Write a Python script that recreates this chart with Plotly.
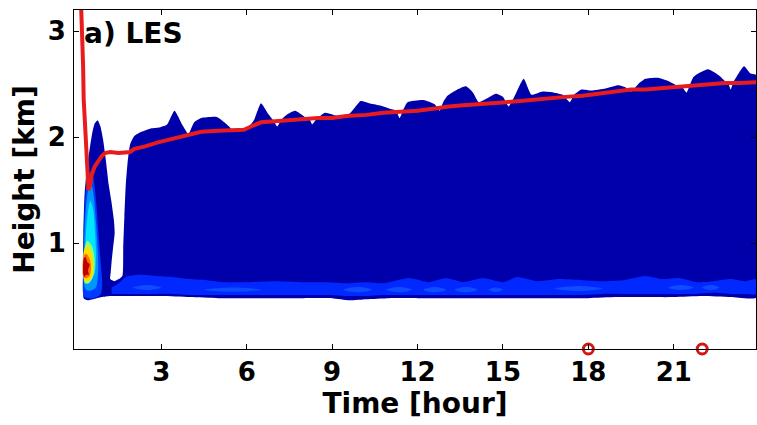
import plotly.graph_objects as go

# ------------------------------------------------------------------ data
# early convective column outline (time [h], height [km])
column_t = [0.27, 0.25, 0.26, 0.30, 0.38, 0.50, 0.58, 0.66, 0.76, 0.86, 0.95, 1.05, 1.15, 1.24, 1.33, 1.36, 1.30, 1.25, 1.22, 1.20]
column_h = [0.48, 0.70, 1.10, 1.45, 1.70, 1.92, 2.05, 2.13, 2.16, 2.10, 1.98, 1.78, 1.55, 1.40, 1.22, 1.10, 0.95, 0.82, 0.72, 0.66]
# floor of the clear gap between column and cloud deck
gap_floor_t = [1.35, 1.50]
gap_floor_h = [0.64, 0.66]
# left edge of the main cloud deck
deck_left_t = [1.63, 1.66, 1.70, 1.75, 1.81, 1.90, 2.05, 2.30]
deck_left_h = [0.69, 0.95, 1.25, 1.55, 1.75, 1.93, 2.01, 2.05]
# cloud-top of the main deck
top_t = [2.6, 2.9, 3.2, 3.46, 3.75, 3.95, 4.15, 4.4, 4.95, 5.3, 5.55, 5.7, 6.0, 6.25, 6.5, 6.75,
         6.95, 7.07, 7.2, 7.45, 7.7, 8.05, 8.2, 8.3, 8.45, 8.75, 9.2, 9.6, 9.8, 10.0, 10.3, 10.65,
         11.0, 11.25, 11.37, 11.5, 11.65, 12.2, 12.6, 12.77, 12.9, 13.05, 13.4, 13.7, 13.95, 14.15,
         14.4, 14.75, 15.0, 15.2, 15.4, 15.73, 16.0, 16.4, 16.8, 17.1, 17.35, 17.5, 17.76, 18.1,
         18.6, 19.05, 19.3, 19.5, 19.75, 20.0, 20.45, 20.8, 21.1, 21.3, 21.45, 21.55, 21.7, 22.2,
         22.6, 22.8, 22.93, 23.0, 23.1, 23.47, 23.7, 23.95]
top_h = [2.08, 2.09, 2.12, 2.25, 2.11, 2.03, 2.14, 2.18, 2.19, 2.12, 2.06, 2.06, 2.08, 2.16, 2.32, 2.22,
         2.15, 2.10, 2.16, 2.22, 2.25, 2.19, 2.17, 2.12, 2.17, 2.23, 2.20, 2.22, 2.28, 2.34, 2.32, 2.30,
         2.27, 2.25, 2.18, 2.26, 2.33, 2.35, 2.31, 2.25, 2.33, 2.39, 2.45, 2.48, 2.42, 2.33,
         2.36, 2.41, 2.38, 2.29, 2.38, 2.55, 2.40, 2.43, 2.42, 2.40, 2.33, 2.40, 2.45, 2.44,
         2.46, 2.49, 2.47, 2.43, 2.50, 2.55, 2.56, 2.53, 2.49, 2.47, 2.42, 2.48, 2.57, 2.64,
         2.58, 2.53, 2.50, 2.45, 2.52, 2.67, 2.60, 2.58]
# cloud base (from column to right edge)
base_t = [0.27, 0.4, 0.6, 0.9, 1.2, 1.6, 2.0, 3.0, 4.0, 5.0, 6.0, 7.0, 8.0, 9.0, 9.6, 10.2, 11.0,
          12.0, 13.0, 14.0, 15.0, 16.0, 17.0, 18.0, 19.0, 20.0, 21.0, 22.0, 23.0, 23.95]
base_h = [0.48, 0.46, 0.47, 0.49, 0.50, 0.50, 0.50, 0.50, 0.49, 0.48, 0.48, 0.48, 0.48, 0.48, 0.46, 0.47, 0.48,
          0.48, 0.48, 0.48, 0.48, 0.48, 0.48, 0.48, 0.49, 0.49, 0.49, 0.50, 0.49, 0.49]
# brighter layer just above cloud base
band_t = [1.25, 1.5, 1.75, 2.2, 2.8, 3.4, 4.0, 4.6, 5.2, 6.0, 7.0, 8.0, 8.8, 9.5, 10.2, 10.8, 11.7,
          12.4, 13.0, 13.6, 14.3, 15.0, 15.5, 16.2, 17.0, 17.8, 18.5, 19.2, 20.0, 20.6, 21.2, 21.8,
          22.4, 23.0, 23.5, 23.95]
band_top_h = [0.58, 0.62, 0.68, 0.70, 0.69, 0.68, 0.66, 0.65, 0.63, 0.63, 0.64, 0.63, 0.63, 0.62, 0.63, 0.62, 0.67,
              0.63, 0.67, 0.63, 0.67, 0.63, 0.68, 0.64, 0.66, 0.65, 0.64, 0.65, 0.69, 0.66, 0.67, 0.63,
              0.64, 0.66, 0.64, 0.66]
band_bot_h = [0.52, 0.52, 0.52, 0.52, 0.52, 0.52, 0.51, 0.51, 0.51, 0.51, 0.51, 0.51, 0.51, 0.50, 0.50, 0.51, 0.51,
              0.51, 0.51, 0.51, 0.51, 0.51, 0.51, 0.51, 0.51, 0.51, 0.52, 0.52, 0.52, 0.52, 0.52, 0.52,
              0.53, 0.52, 0.52, 0.52]
# bright patches inside that layer: start, end, centre height, half thickness
patch_t0 = [2.0, 4.5, 9.4, 10.9, 12.2, 13.3, 14.5, 16.8, 20.8, 22.0]
patch_t1 = [3.0, 6.5, 10.4, 11.8, 13.0, 14.1, 15.0, 18.5, 21.7, 22.6]
patch_hc = [0.58, 0.56, 0.56, 0.56, 0.56, 0.56, 0.56, 0.57, 0.58, 0.58]
patch_dh = [0.025, 0.02, 0.025, 0.025, 0.025, 0.025, 0.02, 0.025, 0.025, 0.025]
# nested intensity rings in the early column (outer -> inner)
ring_colors = ["rgb(0,60,255)", "rgb(0,150,255)", "rgb(0,230,255)", "rgb(150,255,100)",
               "rgb(255,220,0)", "rgb(255,110,0)", "rgb(190,0,0)"]
ring_t = [
    [0.27, 0.26, 0.28, 0.33, 0.42, 0.52, 0.62, 0.72, 0.80, 0.88, 0.92, 0.85, 0.60, 0.40],
    [0.28, 0.29, 0.34, 0.43, 0.53, 0.62, 0.70, 0.76, 0.78, 0.70, 0.50, 0.35],
    [0.30, 0.33, 0.40, 0.50, 0.60, 0.67, 0.70, 0.66, 0.50, 0.36],
    [0.28, 0.30, 0.40, 0.55, 0.65, 0.62, 0.45, 0.32],
    [0.27, 0.28, 0.38, 0.52, 0.60, 0.56, 0.42, 0.30],
    [0.26, 0.27, 0.36, 0.48, 0.53, 0.48, 0.36],
    [0.26, 0.27, 0.33, 0.40, 0.48, 0.42, 0.45, 0.35, 0.30],
]
ring_h = [
    [0.50, 0.80, 1.15, 1.45, 1.62, 1.68, 1.60, 1.35, 1.05, 0.78, 0.60, 0.51, 0.48, 0.48],
    [0.62, 1.00, 1.30, 1.50, 1.56, 1.45, 1.20, 0.95, 0.75, 0.58, 0.55, 0.56],
    [0.68, 1.00, 1.25, 1.40, 1.32, 1.10, 0.90, 0.72, 0.64, 0.64],
    [0.66, 0.95, 1.02, 0.98, 0.86, 0.70, 0.62, 0.62],
    [0.67, 0.93, 0.97, 0.92, 0.80, 0.68, 0.64, 0.64],
    [0.68, 0.88, 0.90, 0.85, 0.77, 0.69, 0.67],
    [0.70, 0.85, 0.87, 0.82, 0.80, 0.74, 0.70, 0.70, 0.68],
]
# boundary-layer height (red line)
pbl_t = [0.16, 0.20, 0.23, 0.25, 0.27, 0.31, 0.34, 0.40, 0.44, 0.50, 0.55, 0.65, 0.79, 0.90, 1.02, 1.2, 1.5,
         1.9, 2.05, 2.4, 2.88, 3.3, 3.8, 4.4, 5.0, 5.55, 5.9, 6.15, 6.5, 7.0, 7.5, 8.0, 8.5, 9.0, 9.5,
         10.2, 10.8, 11.4, 12.0, 12.6, 13.1, 13.6, 14.0, 14.6, 15.1, 15.6, 16.0, 16.6, 17.2, 17.8,
         18.3, 18.9, 19.5, 20.0, 20.5, 21.2, 21.8, 22.3, 22.8, 23.3, 23.95]
pbl_h = [3.40, 3.15, 3.00, 2.67, 2.36, 2.15, 1.98, 1.67, 1.50, 1.55, 1.64, 1.72, 1.78, 1.82, 1.85, 1.86, 1.85,
         1.86, 1.89, 1.91, 1.95, 1.98, 2.01, 2.05, 2.06, 2.07, 2.07, 2.10, 2.14, 2.15, 2.16, 2.17, 2.18, 2.18, 2.20,
         2.21, 2.23, 2.24, 2.25, 2.27, 2.29, 2.30, 2.31, 2.32, 2.33, 2.34, 2.35, 2.37, 2.38, 2.39,
         2.41, 2.43, 2.45, 2.45, 2.46, 2.47, 2.49, 2.50, 2.51, 2.51, 2.52]
# sounding times marked on the axis
marker_t = [18, 22]
marker_h = [0, 0]

xtick_vals = [3, 6, 9, 12, 15, 18, 21]
ytick_vals = [1, 2, 3]
x_range = [-0.07, 23.89]
y_range = [0, 3.2]

# ------------------------------------------------------------------ figure
DARK = "rgb(0,0,170)"
BAND = "rgb(0,40,255)"
PATCH = "rgb(15,75,255)"
RED = "rgb(232,28,30)"
FONT = "DejaVu Sans"

fig = go.Figure()

# cloud envelope: column -> gap floor -> deck left edge -> top -> base back
cloud_t = column_t + gap_floor_t + deck_left_t + top_t + base_t[::-1]
cloud_h = column_h + gap_floor_h + deck_left_h + top_h + base_h[::-1]
fig.add_trace(go.Scatter(x=cloud_t, y=cloud_h, mode="lines", fill="toself",
                         fillcolor=DARK, line=dict(width=0, color=DARK, shape="spline", smoothing=0.5),
                         hoverinfo="skip", showlegend=False))

# bright layer above cloud base
fig.add_trace(go.Scatter(x=band_t + band_t[::-1], y=band_top_h + band_bot_h[::-1],
                         mode="lines", fill="toself", fillcolor=BAND,
                         line=dict(width=0, color=BAND, shape="spline", smoothing=0.5),
                         hoverinfo="skip", showlegend=False))

for t0, t1, hc, dh in zip(patch_t0, patch_t1, patch_hc, patch_dh):
    tm = (t0 + t1) / 2
    fig.add_trace(go.Scatter(x=[t0, tm, t1, tm, t0], y=[hc, hc + dh, hc, hc - dh, hc],
                             mode="lines", fill="toself", fillcolor=PATCH,
                             line=dict(width=0, color=PATCH, shape="spline"),
                             hoverinfo="skip", showlegend=False))

for col, rt, rh in zip(ring_colors, ring_t, ring_h):
    fig.add_trace(go.Scatter(x=rt + rt[:1], y=rh + rh[:1], mode="lines", fill="toself",
                             fillcolor=col, line=dict(width=0, color=col, shape="spline",
                                                      smoothing=0.8),
                             hoverinfo="skip", showlegend=False))

# boundary-layer height
fig.add_trace(go.Scatter(x=pbl_t, y=pbl_h, mode="lines",
                         line=dict(color=RED, width=4), hoverinfo="skip", showlegend=False))

# markers on axis
fig.add_trace(go.Scatter(x=marker_t, y=marker_h, mode="markers", cliponaxis=False,
                         marker=dict(symbol="circle-open", size=10, color="rgb(215,20,20)",
                                     line=dict(width=3, color="rgb(215,20,20)")),
                         hoverinfo="skip", showlegend=False))

fig.add_annotation(text="a) LES", xref="paper", yref="paper", x=0.012, y=0.932,
                   xanchor="left", yanchor="middle", showarrow=False,
                   font=dict(family=FONT, size=28, color="black", weight="bold"))

axis_common = dict(showgrid=False, zeroline=False, showline=True, linecolor="black",
                   linewidth=1, mirror="ticks", ticks="inside", ticklen=5, tickwidth=1,
                   tickcolor="black",
                   tickfont=dict(family=FONT, size=26, color="black", weight="bold"))

fig.update_xaxes(range=x_range, tickvals=xtick_vals, ticklabelstandoff=0,
                 title=dict(text="Time [hour]", standoff=0,
                            font=dict(family=FONT, size=28, color="black", weight="bold")),
                 **axis_common)
fig.update_yaxes(range=y_range, tickvals=ytick_vals, ticklabelstandoff=2,
                 title=dict(text="Height [km]", standoff=4,
                            font=dict(family=FONT, size=28, color="black", weight="bold")),
                 **axis_common)

fig.update_layout(width=757, height=425, margin=dict(l=74, r=1, t=10, b=76),
                  plot_bgcolor="white", paper_bgcolor="white")

fig.write_html("out.html")
